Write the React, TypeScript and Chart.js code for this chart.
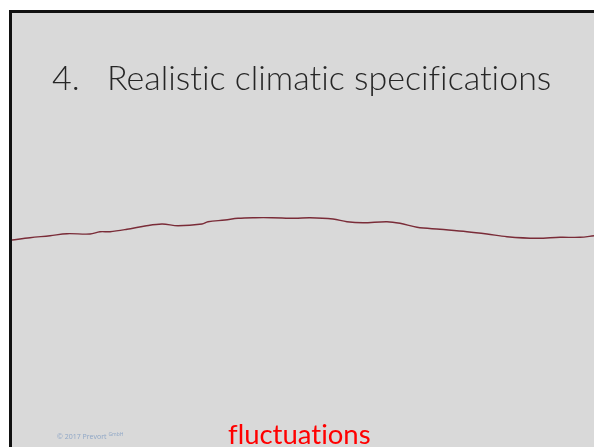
import React, { useEffect, useRef } from "react";
import { Chart, registerables } from "chart.js";

Chart.register(...registerables);

// Horizontal position along the record (arbitrary units)
const positions = [0, 18, 38, 55, 78, 88, 98, 115, 133, 150, 166, 190, 196, 213, 226, 243, 260, 283, 298, 321, 335, 351, 375, 388, 405, 428, 455, 475, 495, 525, 548, 568, 582];
// Level of the climatic curve (arbitrary units)
const levels = [207, 209.3, 211.3, 213.3, 213, 215.3, 215.3, 217.7, 221, 223, 221.3, 223, 225.3, 227, 228.7, 229.3, 229.3, 228.7, 229.3, 228, 225.3, 224.3, 225.3, 223.7, 219.7, 217.7, 215.3, 213, 210.3, 208.7, 209.7, 209.7, 211.3];

const titleNumber = "4.";
const titleText = "Realistic climatic specifications";
const footerText = "© 2017 Prevort";
const footerSup = "GmbH";
const captionText = "fluctuations";

export default function App() {
  const canvasRef = useRef<HTMLCanvasElement | null>(null);

  useEffect(() => {
    const canvas = canvasRef.current;
    if (!canvas) return;
    const chart = new Chart(canvas, {
      type: "line",
      data: {
        datasets: [
          {
            data: positions.map((x, i) => ({ x, y: levels[i] })),
            borderColor: "#7a2c38",
            borderWidth: 1.4,
            pointRadius: 0,
            tension: 0.35,
            fill: false,
          },
        ],
      },
      options: {
        animation: false,
        responsive: false,
        maintainAspectRatio: false,
        layout: { padding: 0 },
        plugins: { legend: { display: false }, tooltip: { enabled: false }, title: { display: false } },
        scales: {
          x: { type: "linear", min: 0, max: 582, display: false },
          y: { type: "linear", min: 0, max: 434, display: false },
        },
      },
    });
    return () => chart.destroy();
  }, []);

  return (
    <div style={{ position: "fixed", inset: 0, overflow: "hidden", background: "#ffffff" }}>
      <div
        style={{
          position: "absolute",
          left: 9,
          top: 10,
          width: 620,
          height: 470,
          background: "#d9d9d9",
          borderLeft: "3px solid #111111",
          borderTop: "3px solid #111111",
        }}
      >
        <canvas
          ref={canvasRef}
          width={582}
          height={434}
          style={{ position: "absolute", left: 0, top: 0, width: 582, height: 434 }}
        />
        <div
          style={{
            position: "absolute",
            left: 40,
            top: 47,
            fontFamily: "Lato, 'Open Sans', sans-serif",
            fontWeight: 300,
            fontSize: 34,
            fontVariantLigatures: "none",
            color: "#262626",
            whiteSpace: "nowrap",
            lineHeight: 1,
          }}
        >
          <span style={{ display: "inline-block", width: 55 }}>{titleNumber}</span>
          <span>{titleText}</span>
        </div>
        <div
          style={{
            position: "absolute",
            left: 45,
            top: 419,
            fontFamily: "'Open Sans', sans-serif",
            fontSize: 7,
            color: "#8ea6c6",
            whiteSpace: "nowrap",
            lineHeight: 1,
          }}
        >
          {footerText} <sup style={{ fontSize: 5 }}>{footerSup}</sup>
        </div>
        <div
          style={{
            position: "absolute",
            left: 216,
            top: 407,
            fontFamily: "Lato, 'Open Sans', sans-serif",
            fontSize: 27.5,
            fontVariantLigatures: "none",
            color: "#ff0000",
            whiteSpace: "nowrap",
            lineHeight: 1,
          }}
        >
          {captionText}
        </div>
      </div>
    </div>
  );
}
